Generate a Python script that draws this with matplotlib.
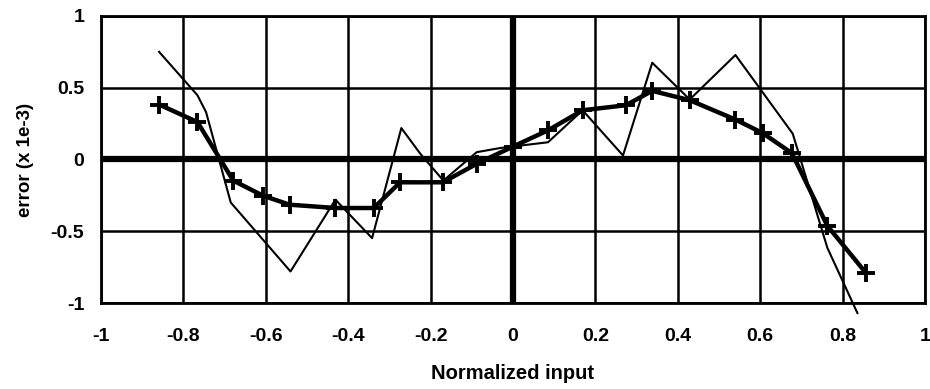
import numpy as np
import matplotlib.pyplot as plt

plt.rcParams['font.family'] = ['Liberation Sans Narrow', 'Liberation Sans', 'DejaVu Sans']
plt.rcParams['font.weight'] = 'bold'

# smoothed error (thick line with + markers)
x_smooth = [-0.859, -0.766, -0.679, -0.607, -0.542, -0.431, -0.338, -0.274, -0.170, -0.088,
            0.0, 0.085, 0.169, 0.274, 0.338, 0.429, 0.540, 0.606, 0.677, 0.763, 0.856]
y_smooth = [0.383, 0.261, -0.147, -0.252, -0.315, -0.338, -0.338, -0.159, -0.159, -0.030,
            0.09, 0.203, 0.343, 0.378, 0.478, 0.413, 0.278, 0.184, 0.044, -0.462, -0.788]

# raw error (thin line)
x_raw = [-0.859, -0.766, -0.745, -0.685, -0.540, -0.431, -0.342, -0.271, -0.225, -0.169,
         -0.088, -0.031, 0.085, 0.169, 0.267, 0.338, 0.429, 0.540, 0.679, 0.763, 0.836]
y_raw = [0.75, 0.448, 0.33, -0.30, -0.78, -0.28, -0.548, 0.219, 0.04, -0.147,
         0.051, 0.08, 0.12, 0.343, 0.028, 0.674, 0.418, 0.728, 0.18, -0.615, -1.07]

xticks = [-1, -0.8, -0.6, -0.4, -0.2, 0, 0.2, 0.4, 0.6, 0.8, 1]
xticklabels = ['-1', '-0.8', '-0.6', '-0.4', '-0.2', '0', '0.2', '0.4', '0.6', '0.8', '1']
yticks = [-1, -0.5, 0, 0.5, 1]
yticklabels = ['-1', '-0.5', '0', '0.5', '1']

fig = plt.figure(figsize=(9.3, 3.89), dpi=100)
ax = fig.add_axes([0.1086, 0.221, 0.886, 0.738])

ax.set_xlim(-1, 1)
ax.set_ylim(-1, 1)
ax.set_xticks(xticks)
ax.set_xticklabels(xticklabels, fontsize=14, fontweight='bold')
ax.set_yticks(yticks)
ax.set_yticklabels(yticklabels, fontsize=14, fontweight='bold')
ax.tick_params(axis='x', length=0, pad=18)
ax.tick_params(axis='y', length=0, pad=12)
ax.grid(True, color='black', linewidth=1.8)
ax.set_axisbelow(True)
for s in ax.spines.values():
    s.set_linewidth(2)

ax.axhline(0, color='black', linewidth=4.5, zorder=1.5)
ax.axvline(0, color='black', linewidth=4.5, zorder=1.5)

ax.plot(x_raw, y_raw, color='black', linewidth=1.5, clip_on=False, zorder=3)
ax.plot(x_smooth, y_smooth, color='black', linewidth=3.2, marker='+',
        markersize=13, markeredgewidth=2.8, zorder=4)

ax.set_xlabel('Normalized input', fontsize=14.5, fontweight='bold', labelpad=14)
ax.set_ylabel('error (x 1e-3)', fontsize=13.5, fontweight='bold', labelpad=12)

fig.savefig('out.png', dpi=100)
